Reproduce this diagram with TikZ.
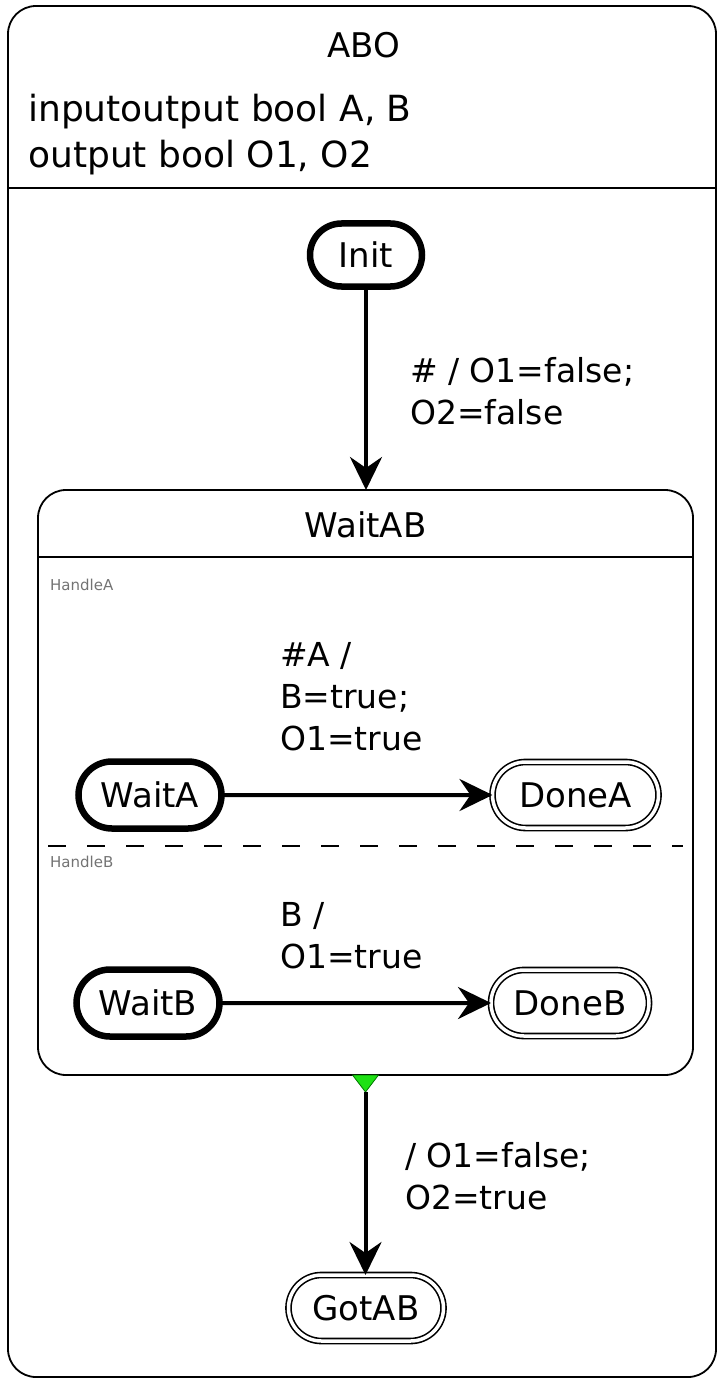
\documentclass[tikz,border=0pt]{standalone}
\usepackage{fontspec}
\setmainfont{DejaVu Sans}
\usetikzlibrary{shapes.misc,arrows.meta,calc}
\tikzset{
  txt/.style={inner sep=0pt, font=\fontsize{34}{42}\selectfont},
  lbl/.style={txt, anchor=west, align=left, font=\fontsize{33}{42}\selectfont},
  statebox/.style={rounded rectangle, draw, inner sep=0pt, outer sep=0pt, font=\fontsize{34}{42}\selectfont},
  initst/.style={statebox, line width=6.5pt},
  finalst/.style={statebox, line width=1.6pt, double, double distance=3.5pt},
  trans/.style={line width=4pt, -{Stealth[length=33pt,width=32pt,inset=11pt]}},
  frame/.style={draw, line width=1.8pt},
  region/.style={inner sep=0pt, anchor=west, text=black!55, font=\fontsize{15}{17}\selectfont},
}
\begin{document}
\begin{tikzpicture}[x=1pt,y=-1pt]
\useasboundingbox (0,0) rectangle (724,1380);
% outer state ABO
\draw[frame, rounded corners=28pt] (8,6) rectangle (716,1377);
\draw[line width=1.8pt] (8,188) -- (716,188);
\node[txt] (abo) at (364,45) {ABO};
\node[txt, anchor=west, align=left, font=\fontsize{36}{46}\selectfont] (decl) at (28,135) {inputoutput bool A, B\\output bool O1, O2};
% Init
\node[initst, minimum width=112pt, minimum height=63pt] (init) at (366,255) {Init};
% WaitAB
\node[frame, rounded corners=28pt, inner sep=0pt, outer sep=0pt, minimum width=655pt, minimum height=585pt] (waitab) at (365.5,782.5) {};
\node[txt] (waitabt) at (365.5,525) {WaitAB};
\draw[line width=1.8pt] (waitab.west |- 0,557) -- (waitab.east |- 0,557);
\node[region] (ha) at (50,585) {HandleA};
\draw[line width=2pt, dash pattern=on 18pt off 21pt] (48,846) -- (683,846);
\node[region] (hb) at (50,862) {HandleB};
% region A
\node[initst, minimum width=143pt, minimum height=67pt] (waita) at (150,795) {WaitA};
\node[finalst, minimum width=166pt, minimum height=66pt] (donea) at (575.5,795) {DoneA};
\draw[trans] (waita) -- (donea);
\node[lbl] (la) at (280,697) {\#A /\\B=true;\\O1=true};
% region B
\node[initst, minimum width=143pt, minimum height=67pt] (waitb) at (148,1003) {WaitB};
\node[finalst, minimum width=158pt, minimum height=66pt] (doneb) at (570,1003) {DoneB};
\draw[trans] (waitb) -- (doneb);
\node[lbl] (lb) at (280,936) {B /\\O1=true};
% Init -> WaitAB
\draw[trans] (init.south) -- (init.south |- waitab.north);
\node[lbl] (l1) at (410,391) {\# / O1=false;\\O2=false};
% termination triangle
\coordinate (tri) at ($(waitab.south)+(0,17)$);
\draw[fill={rgb,255:red,30;green,225;blue,20}, draw={rgb,255:red,0;green,120;blue,0}, line width=0.8pt]
  ($(waitab.south)+(-13,0)$) -- ($(waitab.south)+(13,0)$) -- (tri) -- cycle;
% GotAB
\node[finalst, minimum width=155pt, minimum height=66pt] (gotab) at (366,1308) {GotAB};
\draw[trans] (tri) -- (tri |- gotab.north);
\node[lbl] (l2) at (405,1176) {/ O1=false;\\O2=true};
\end{tikzpicture}
\end{document}
